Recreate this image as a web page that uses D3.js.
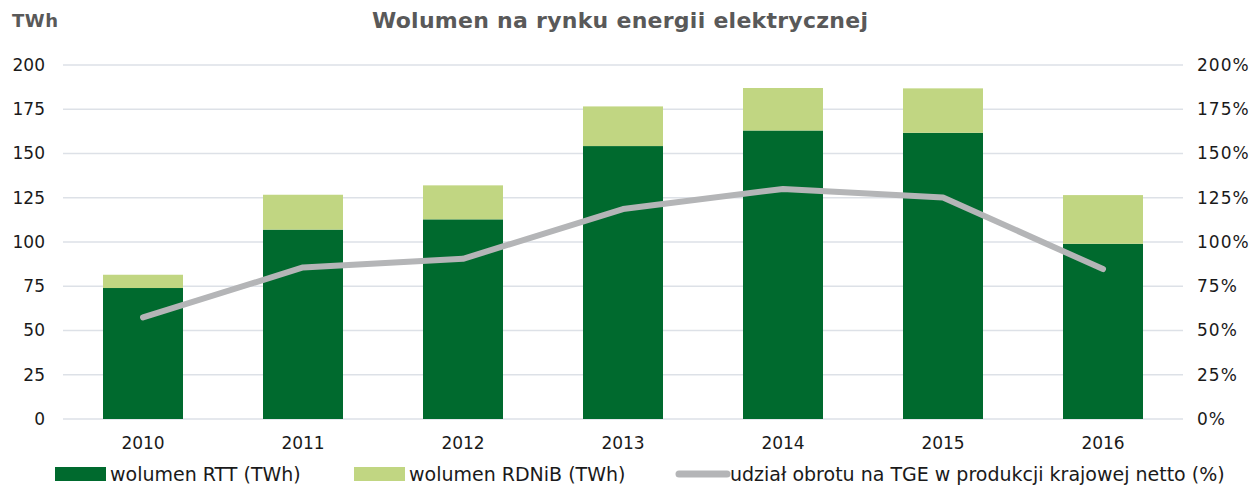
<!DOCTYPE html>
<html>
<head>
<meta charset="utf-8">
<script src="https://cdn.jsdelivr.net/npm/d3@7/dist/d3.min.js"></script>
<style>
  body { margin: 0; background: #fff; }
  svg { font-family: "DejaVu Sans", Verdana, sans-serif; }
</style>
</head>
<body>
<svg id="chart"></svg>
<script>
// Data
const years = ["2010", "2011", "2012", "2013", "2014", "2015", "2016"];
const rtt = [74.0, 107.0, 112.8, 154.2, 163.0, 161.7, 99.0];
const rdnib = [7.5, 19.7, 19.2, 22.4, 24.0, 25.1, 27.5];
const share = [57.4, 85.6, 90.5, 118.6, 130.0, 125.2, 84.7];
const leftTicks = [0, 25, 50, 75, 100, 125, 150, 175, 200];
const rightTicks = [0, 25, 50, 75, 100, 125, 150, 175, 200];

const w = 1259, h = 488;
const plotLeft = 63, plotRight = 1183, plotTop = 65, plotBottom = 419;

const svg = d3.select("#chart").attr("width", w).attr("height", h);

const x = d3.scaleBand().domain(years).range([plotLeft, plotRight]).paddingInner(0.5).paddingOuter(0.25);
const y = d3.scaleLinear().domain([0, 200]).range([plotBottom, plotTop]);
const y2 = d3.scaleLinear().domain([0, 200]).range([plotBottom, plotTop]);

// gridlines
svg.append("g")
   .selectAll("line")
   .data(leftTicks)
   .enter()
   .append("line")
   .attr("x1", plotLeft)
   .attr("x2", plotRight)
   .attr("y1", d => y(d))
   .attr("y2", d => y(d))
   .attr("stroke", "#dde1e7")
   .attr("stroke-width", 1.5);

// left axis
const yAxis = d3.axisLeft(y).tickValues(leftTicks).tickSize(0).tickPadding(0);
svg.append("g")
   .attr("transform", "translate(45,0)")
   .call(yAxis)
   .call(g => g.select(".domain").remove())
   .selectAll("text")
   .attr("font-size", 17)
   .attr("font-family", "DejaVu Sans")
   .attr("fill", "#1a1a1a");

// right axis
const y2Axis = d3.axisRight(y2).tickValues(rightTicks).tickSize(0).tickPadding(0).tickFormat(d => d + "%");
svg.append("g")
   .attr("transform", "translate(1197,0)")
   .call(y2Axis)
   .call(g => g.select(".domain").remove())
   .selectAll("text")
   .attr("font-size", 17)
   .attr("letter-spacing", 1)
   .attr("font-family", "DejaVu Sans")
   .attr("fill", "#1a1a1a");

// x axis labels
const xAxis = d3.axisBottom(x).tickSize(0).tickPadding(0);
svg.append("g")
   .attr("transform", "translate(0," + (plotBottom + 18) + ")")
   .call(xAxis)
   .call(g => g.select(".domain").remove())
   .selectAll("text")
   .attr("font-size", 17)
   .attr("font-family", "DejaVu Sans")
   .attr("fill", "#1a1a1a");

// stacked bars
const stackData = years.map((yr, i) => ({ year: yr, rtt: rtt[i], rdnib: rdnib[i] }));
const series = d3.stack().keys(["rtt", "rdnib"])(stackData);
const colors = { rtt: "#006a2e", rdnib: "#c1d682" };

svg.append("g")
   .selectAll("g")
   .data(series)
   .enter()
   .append("g")
   .attr("fill", d => colors[d.key])
   .selectAll("rect")
   .data(d => d)
   .enter()
   .append("rect")
   .attr("x", d => x(d.data.year))
   .attr("width", x.bandwidth())
   .attr("y", d => y(d[1]))
   .attr("height", d => y(d[0]) - y(d[1]));

// share line
const line = d3.line()
               .x((d, i) => x(years[i]) + x.bandwidth() / 2)
               .y(d => y2(d));
svg.append("path")
   .datum(share)
   .attr("d", line)
   .attr("fill", "none")
   .attr("stroke", "#b4b5b7")
   .attr("stroke-width", 6)
   .attr("stroke-linecap", "round")
   .attr("stroke-linejoin", "round");

// title and unit
svg.append("text")
   .attr("x", 372)
   .attr("y", 28)
   .attr("font-size", 22)
   .attr("font-weight", "bold")
   .attr("fill", "#595959")
   .attr("textLength", 496)
   .attr("lengthAdjust", "spacing")
   .text("Wolumen na rynku energii elektrycznej");

svg.append("text")
   .attr("x", 12)
   .attr("y", 27)
   .attr("font-size", 18)
   .attr("font-weight", "bold")
   .attr("fill", "#595959")
   .attr("textLength", 46)
   .attr("lengthAdjust", "spacing")
   .text("TWh");

// legend
const legendItems = [
  { label: "wolumen RTT (TWh)", color: colors.rtt, type: "rect", x: 55 },
  { label: "wolumen RDNiB (TWh)", color: colors.rdnib, type: "rect", x: 354 },
  { label: "udział obrotu na TGE w produkcji krajowej netto (%)", color: "#b4b5b7", type: "line", x: 675 }
];
const legend = svg.append("g");
legendItems.forEach(item => {
  if (item.type === "rect") {
    legend.append("rect")
          .attr("x", item.x)
          .attr("y", 467)
          .attr("width", 51)
          .attr("height", 14)
          .attr("fill", item.color);
  } else {
    legend.append("line")
          .attr("x1", item.x + 4)
          .attr("x2", item.x + 52)
          .attr("y1", 474)
          .attr("y2", 474)
          .attr("stroke", item.color)
          .attr("stroke-width", 7)
          .attr("stroke-linecap", "round");
  }
  legend.append("text")
        .attr("x", item.x + 55)
        .attr("y", 481)
        .attr("font-size", 19)
        .attr("fill", "#1a1a1a")
        .text(item.label);
});
</script>
</body>
</html>
